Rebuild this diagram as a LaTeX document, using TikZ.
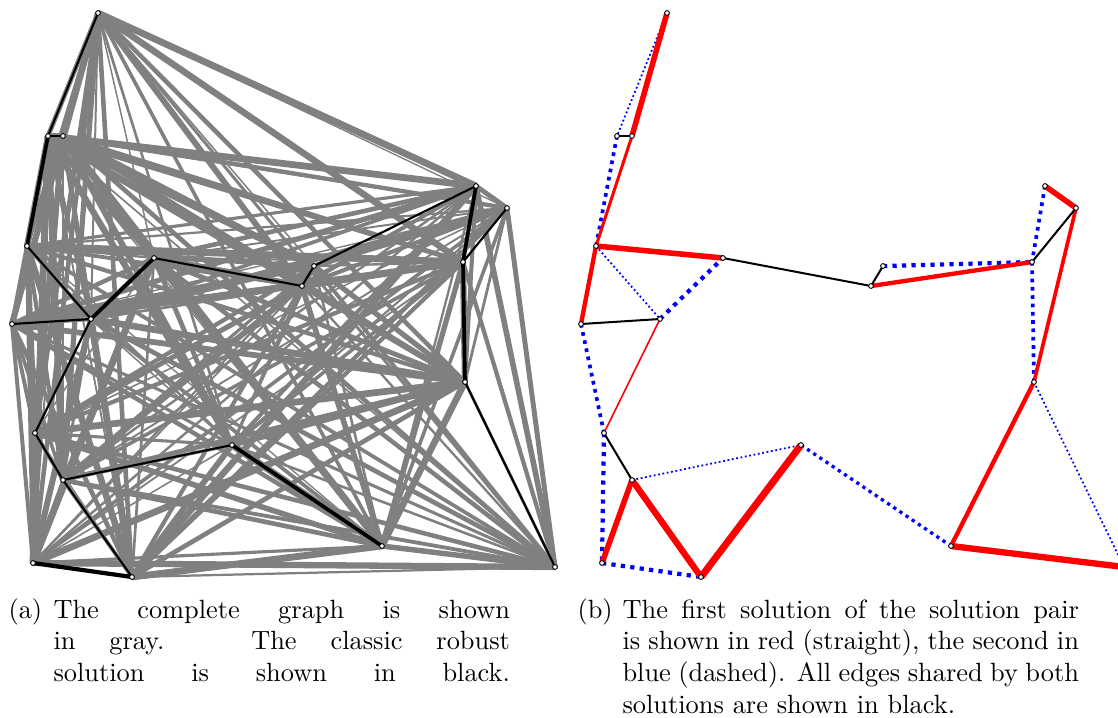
\documentclass[tikz,border=0pt]{standalone}
\begin{document}
\begin{tikzpicture}[x=0.379pt,y=-0.379pt,
  vtx/.style={circle,draw=black,fill=white,line width=0.35pt,inner sep=0pt,minimum size=1.8pt},
  grayedge/.style={draw=gray,line width=#1},
  robust/.style={draw=black,line width=#1},
  redsol/.style={draw=red,line width=#1},
  bluesol/.style={draw=blue,line width=#1,dash pattern=on #1 off 1.25*#1},
  bluedot/.style={draw=blue,line width=0.68pt,dash pattern=on 0.68pt off 1.0pt},
  shared/.style={draw=black,line width=0.76pt},
  capt/.style={anchor=base west,inner sep=0pt,font=\fontsize{10}{12}\selectfont}]
\useasboundingbox (0,0) rectangle (1118,717);
\clip (0,0) rectangle (1118,717);
\foreach \i/\x/\y in {1/98/13, 2/48/136, 3/63/136, 4/27/246, 5/154/258,
  6/302/286, 7/314/266, 8/476/186, 9/507/208, 10/463/262,
  11/12/324, 12/91/319, 13/465/382, 14/35/433, 15/232/445,
  16/63/480, 17/382/546, 18/33/563, 19/132/577, 20/555/567}{
  \coordinate (a\i) at (\x,\y);
  \coordinate (b\i) at (\x+569,\y);
}
% (a) complete graph in gray
\pgfmathsetseed{12345}
\foreach \i in {1,...,19}{
  \pgfmathtruncatemacro{\s}{\i+1}
  \foreach \j in {\s,...,20}{
    \pgfmathsetmacro{\w}{0.45+2.2*rnd}
    \draw[grayedge=\w pt] (a\i) -- (a\j);
  }
}
% classic robust solution
\foreach \u/\v in {1/2, 2/3, 4/12, 5/6, 6/7, 7/8, 10/9, 11/12, 12/14, 14/16, 16/15, 16/19, 13/20}
  \draw[robust=0.8pt] (a\u) -- (a\v);
\foreach \u/\v in {2/4, 12/5, 8/10, 15/17, 10/13}
  \draw[robust=1.4pt] (a\u) -- (a\v);
\draw[robust=1.6pt] (a19) -- (a18);
% (b) second solution (blue)
\foreach \u/\v in {1/2, 4/12, 16/15, 13/20}
  \draw[bluedot] (b\u) -- (b\v);
\foreach \u/\v in {2/4, 11/14, 10/13, 8/10}
  \draw[bluesol=1.4pt] (b\u) -- (b\v);
\foreach \u/\v in {12/5, 14/18, 18/19, 7/10}
  \draw[bluesol=1.6pt] (b\u) -- (b\v);
\draw[bluesol=1.25pt] (b15) -- (b17);
% first solution (red)
\foreach \u/\v in {1/3, 4/5, 8/9, 16/18}
  \draw[redsol=2.1pt] (b\u) -- (b\v);
\draw[redsol=1.15pt] (b3) -- (b4);
\foreach \u/\v in {4/11, 6/10, 13/17}
  \draw[redsol=1.65pt] (b\u) -- (b\v);
\draw[redsol=0.6pt] (b12) -- (b14);
\draw[redsol=1.4pt] (b9) -- (b13);
\foreach \u/\v in {17/20, 16/19}
  \draw[redsol=2.4pt] (b\u) -- (b\v);
\draw[redsol=2.65pt] (b19) -- (b15);
% shared edges
\foreach \u/\v in {2/3, 5/6, 6/7, 10/9, 11/12, 14/16}
  \draw[shared] (b\u) -- (b\v);
% vertices
\foreach \i in {1,...,20}{
  \node[vtx] (va\i) at (a\i) {};
  \node[vtx] (vb\i) at (b\i) {};
}
% captions
\node[capt] (capa) at (8,618) {(a)};
\node[capt] (capatext) at (53,618) {\parbox[t]{173pt}{%
  \makebox[173pt][s]{The complete graph is shown}\\
  \makebox[173pt][s]{in gray. The classic robust}\\
  \makebox[173pt][s]{solution is shown in black.}}};
\node[capt] (capb) at (577,618) {(b)};
\node[capt] (capbtext) at (622,618) {\parbox[t]{173pt}{%
  \makebox[173pt][s]{The first solution of the solution pair}\\
  \makebox[173pt][s]{is shown in red (straight), the second in}\\
  \makebox[173pt][s]{blue (dashed). All edges shared by both}\\
  solutions are shown in black.}};
\end{tikzpicture}
\end{document}
